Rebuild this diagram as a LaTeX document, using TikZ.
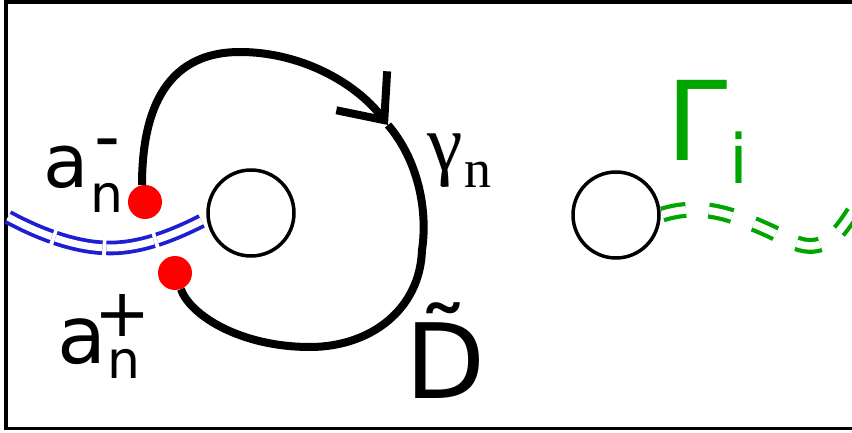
\documentclass[tikz,border=0pt]{standalone}
\usepackage{fontspec}
\setmainfont{DejaVu Sans}
\newfontfamily\gammafont{Liberation Serif}
\usepackage{tikz}
\usetikzlibrary{arrows.meta}
\definecolor{cutblue}{RGB}{30,30,210}
\definecolor{cutgreen}{RGB}{0,165,0}

\begin{document}
\begin{tikzpicture}[
x=1pt, y=-1pt,
hole/.style={draw, circle, line width=3.5pt, minimum size=86pt, inner sep=0pt},
endpt/.style={circle, fill=red, minimum size=34pt, inner sep=0pt},
lbl/.style={inner sep=0pt, anchor=base west},
loopline/.style={line width=8pt},
bluecut/.style={draw=cutblue, line width=3.8pt, double=white, double distance=7pt, dash pattern=on 48pt off 4pt},
greencut/.style={draw=cutgreen, line width=4.2pt, double=white, double distance=7.5pt, dash pattern=on 24pt off 23pt}
]
\useasboundingbox (0,0) rectangle (852,433);
\clip (0,0) rectangle (852,433);
% frame
\draw[line width=3.8pt] (6,1.9) rectangle (900,428.5);

\node[hole] (holeL) at (251,213) {};
\node[hole] (holeR) at (616,215) {};
\coordinate (leftedge) at (8,217);
\coordinate (rightedge) at (870,185);
\coordinate (tip) at (388,125);

% cuts
\draw[bluecut, shorten >=1.7pt] (leftedge) .. controls (45,237) and (80,248) .. (110,248)
  .. controls (145,248) and (180,232) .. (holeL.187);
\draw[greencut, shorten <=1.7pt] (holeR.east) .. controls (700,203) and (730,213) .. (770,231)
  .. controls (795,243) and (815,258) .. (840,230) .. controls (850,218) and (860,200) .. (rightedge);

% contour
\node[endpt] (am) at (145,202) {};
\node[endpt] (ap) at (175,273) {};
\draw[loopline, -{Straight Barb[length=37pt, width=64pt, sharp]}] (am.100) .. controls (142,120) and (160,52) .. (240,52)
  .. controls (300,52) and (355,82) .. (tip);
\draw[loopline] (tip) .. controls (418,160) and (428,210) .. (422,250)
  .. controls (420,310) and (370,347) .. (310,347) .. controls (240,347) and (190,315) .. (ap.-70);

% labels
\node[lbl, font=\fontsize{74}{74}\selectfont] (amA) at (43,188) {a};
\node[lbl, font=\fontsize{52}{52}\selectfont] (amN) at (90,212) {n};
\node[lbl, font=\fontsize{72}{72}\selectfont] (amS) at (94,162) {-};
\node[lbl, font=\fontsize{80}{80}\selectfont] (apA) at (57,363) {a};
\node[lbl, font=\fontsize{52}{52}\selectfont] (apN) at (107,378) {n};
\node[inner sep=0pt, font=\fontsize{67}{67}\selectfont] (apS) at (123,315) {+};
\node[lbl, font=\gammafont\fontsize{80}{80}\selectfont] (gam) at (427,171) {γ};
\node[lbl, font=\gammafont\fontsize{54}{54}\selectfont] (gamN) at (464,188) {n};
\node[lbl, font=\fontsize{104}{104}\selectfont] (dtil) at (405,398) {\~{D}};
\node[lbl, text=cutgreen, font=\fontsize{110}{110}\selectfont] (gbig) at (666,161) {Γ};
\node[lbl, text=cutgreen, font=\fontsize{68}{68}\selectfont] (gsub) at (729,183) {i};
\end{tikzpicture}
\end{document}
